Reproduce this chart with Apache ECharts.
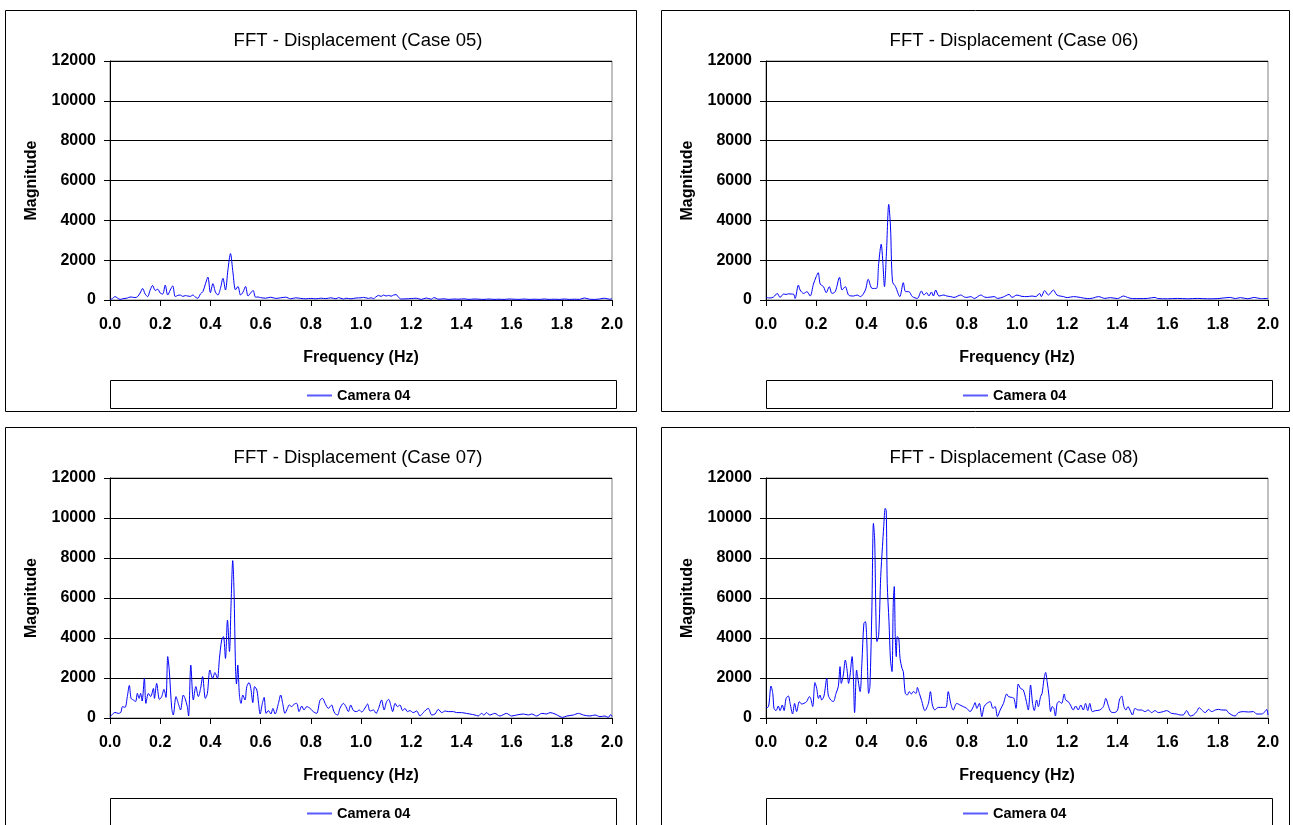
<!DOCTYPE html>
<html>
<head>
<meta charset="utf-8">
<script src="https://cdn.jsdelivr.net/npm/echarts@6/dist/echarts.min.js"></script>
<style>
html,body{margin:0;padding:0;background:#fff;}
#chart{width:1293px;height:825px;}
</style>
</head>
<body>
<div id="chart"></div>
<script>
// ---- Data (frequency Hz, magnitude) ----
const titles = ['FFT - Displacement (Case 05)', 'FFT - Displacement (Case 06)', 'FFT - Displacement (Case 07)', 'FFT - Displacement (Case 08)'];
const seriesName = 'Camera 04';
const xTicks = ['0.0','0.2','0.4','0.6','0.8','1.0','1.2','1.4','1.6','1.8','2.0'];
const yTicks = [0, 2000, 4000, 6000, 8000, 10000, 12000];

const case05 = [[0,0],[0.01,80],[0.02,170],[0.03,100],[0.04,30],[0.05,60],[0.06,80],[0.07,100],[0.08,150],[0.09,140],[0.10,120],[0.11,170],[0.12,350],[0.13,580],[0.14,300],[0.15,170],[0.16,500],[0.17,730],[0.18,480],[0.19,540],[0.20,350],[0.21,300],[0.22,750],[0.23,250],[0.24,500],[0.25,710],[0.26,170],[0.27,230],[0.28,250],[0.29,180],[0.30,220],[0.31,200],[0.32,180],[0.33,250],[0.34,150],[0.35,85],[0.36,300],[0.37,420],[0.38,800],[0.39,1150],[0.40,370],[0.41,820],[0.42,400],[0.43,250],[0.44,580],[0.45,1090],[0.46,500],[0.47,1530],[0.48,2330],[0.49,1360],[0.50,510],[0.51,680],[0.52,250],[0.53,400],[0.54,680],[0.55,200],[0.56,350],[0.57,480],[0.58,140],[0.59,150],[0.60,120],[0.62,90],[0.64,140],[0.66,80],[0.68,110],[0.70,140],[0.72,60],[0.74,110],[0.76,80],[0.78,60],[0.80,80],[0.82,60],[0.84,90],[0.86,70],[0.88,110],[0.90,60],[0.91,120],[0.93,50],[0.94,90],[0.96,60],[0.98,100],[1.00,110],[1.01,130],[1.03,80],[1.04,110],[1.05,70],[1.06,160],[1.07,230],[1.08,180],[1.09,250],[1.10,200],[1.11,230],[1.12,190],[1.13,250],[1.14,270],[1.15,130],[1.16,50],[1.18,60],[1.20,70],[1.22,90],[1.24,30],[1.26,100],[1.28,40],[1.29,120],[1.31,40],[1.33,60],[1.35,30],[1.37,50],[1.39,40],[1.41,60],[1.43,30],[1.45,50],[1.47,40],[1.49,30],[1.51,50],[1.53,30],[1.55,40],[1.57,30],[1.59,50],[1.61,40],[1.63,30],[1.65,50],[1.67,30],[1.69,40],[1.71,30],[1.73,50],[1.75,30],[1.77,40],[1.79,30],[1.81,50],[1.83,30],[1.85,40],[1.87,30],[1.89,100],[1.91,40],[1.93,30],[1.95,50],[1.97,90],[1.99,40],[2.00,60]];

const case06 = [[0,130],[0.015,100],[0.03,150],[0.045,330],[0.056,130],[0.07,300],[0.08,280],[0.09,310],[0.10,300],[0.11,290],[0.116,80],[0.129,750],[0.136,500],[0.15,330],[0.163,420],[0.176,200],[0.189,800],[0.2,1170],[0.208,1370],[0.216,800],[0.229,670],[0.24,370],[0.252,670],[0.263,330],[0.276,420],[0.293,1140],[0.303,500],[0.316,670],[0.329,250],[0.349,200],[0.363,250],[0.376,170],[0.396,500],[0.407,1040],[0.423,580],[0.44,580],[0.449,1840],[0.459,2800],[0.465,2000],[0.472,670],[0.48,2420],[0.489,4800],[0.496,3670],[0.504,920],[0.516,670],[0.533,170],[0.547,870],[0.556,420],[0.569,420],[0.583,170],[0.603,80],[0.619,450],[0.629,250],[0.64,370],[0.649,200],[0.659,400],[0.667,200],[0.676,500],[0.689,200],[0.709,250],[0.72,200],[0.736,170],[0.749,130],[0.776,250],[0.79,150],[0.8,130],[0.816,170],[0.83,80],[0.856,250],[0.87,150],[0.883,130],[0.909,170],[0.923,80],[0.945,150],[0.969,280],[0.98,130],[1.0,250],[1.02,180],[1.04,170],[1.06,200],[1.075,170],[1.09,330],[1.097,170],[1.11,470],[1.125,250],[1.145,500],[1.159,250],[1.185,170],[1.2,120],[1.225,170],[1.252,130],[1.28,70],[1.3,90],[1.325,170],[1.35,80],[1.372,120],[1.4,70],[1.425,200],[1.44,130],[1.46,70],[1.49,70],[1.52,80],[1.55,130],[1.56,70],[1.6,60],[1.64,80],[1.68,60],[1.72,80],[1.76,60],[1.8,70],[1.85,130],[1.87,70],[1.89,120],[1.92,60],[1.945,130],[1.97,70],[2.0,80]];

const case07 = [[0,50],[0.007,150],[0.02,280],[0.033,230],[0.043,280],[0.05,570],[0.06,530],[0.069,1070],[0.077,1630],[0.084,980],[0.093,900],[0.102,820],[0.109,1230],[0.116,980],[0.122,1230],[0.128,850],[0.137,1980],[0.143,730],[0.153,1230],[0.162,1070],[0.173,1480],[0.177,980],[0.186,1730],[0.197,930],[0.206,1070],[0.215,1430],[0.223,1030],[0.23,3070],[0.236,2400],[0.246,480],[0.252,150],[0.263,1070],[0.272,730],[0.281,400],[0.292,1150],[0.299,980],[0.308,570],[0.313,100],[0.322,2650],[0.332,900],[0.342,1570],[0.352,1070],[0.361,1480],[0.369,2070],[0.38,980],[0.388,1230],[0.398,2400],[0.409,1980],[0.418,2270],[0.428,1980],[0.436,2980],[0.445,3900],[0.452,4070],[0.46,2980],[0.468,4900],[0.476,3320],[0.482,5570],[0.489,7870],[0.494,6400],[0.5,2570],[0.504,1700],[0.509,2650],[0.516,1070],[0.522,730],[0.529,1150],[0.538,900],[0.545,1570],[0.554,1770],[0.561,1480],[0.569,770],[0.576,1570],[0.585,1400],[0.592,730],[0.598,200],[0.607,730],[0.614,1030],[0.622,230],[0.631,370],[0.641,200],[0.649,480],[0.658,200],[0.671,730],[0.68,1150],[0.688,730],[0.697,230],[0.707,480],[0.714,650],[0.724,570],[0.734,700],[0.744,730],[0.753,320],[0.764,600],[0.773,400],[0.784,570],[0.797,480],[0.81,320],[0.823,230],[0.837,900],[0.847,980],[0.857,730],[0.87,480],[0.883,650],[0.89,400],[0.896,230],[0.907,150],[0.916,480],[0.93,730],[0.94,570],[0.95,320],[0.959,650],[0.97,370],[0.983,320],[0.993,400],[1.003,300],[1.016,500],[1.026,700],[1.036,350],[1.05,400],[1.06,230],[1.07,480],[1.082,900],[1.092,400],[1.102,820],[1.11,930],[1.12,570],[1.126,320],[1.136,730],[1.145,570],[1.155,650],[1.166,370],[1.175,480],[1.185,320],[1.195,370],[1.208,270],[1.222,350],[1.235,100],[1.248,270],[1.268,480],[1.282,150],[1.295,200],[1.308,430],[1.322,270],[1.335,350],[1.348,320],[1.368,320],[1.381,270],[1.4,270],[1.42,230],[1.434,200],[1.454,150],[1.467,100],[1.48,230],[1.49,150],[1.5,270],[1.513,150],[1.533,230],[1.553,100],[1.58,230],[1.6,100],[1.62,150],[1.647,200],[1.667,150],[1.68,200],[1.7,100],[1.72,230],[1.74,200],[1.753,270],[1.773,200],[1.793,70],[1.803,30],[1.82,100],[1.846,150],[1.866,230],[1.886,150],[1.912,100],[1.932,150],[1.952,70],[1.972,100],[1.985,30],[1.995,170],[2.0,70]];

const case08 = [[0,500],[0.01,570],[0.02,1600],[0.027,1230],[0.032,480],[0.04,370],[0.049,600],[0.056,370],[0.065,650],[0.072,370],[0.08,980],[0.089,1100],[0.096,730],[0.106,200],[0.114,730],[0.122,320],[0.133,820],[0.142,700],[0.151,730],[0.162,820],[0.173,1070],[0.178,980],[0.186,570],[0.195,1770],[0.202,1480],[0.209,980],[0.215,1150],[0.222,900],[0.231,1100],[0.242,1980],[0.248,1150],[0.258,900],[0.268,820],[0.279,1230],[0.288,1570],[0.295,2570],[0.3,1730],[0.308,2150],[0.316,2900],[0.323,2400],[0.329,1730],[0.335,2150],[0.343,3070],[0.348,2070],[0.353,270],[0.361,2400],[0.365,2070],[0.375,1320],[0.382,2730],[0.39,4730],[0.396,4820],[0.401,4070],[0.409,1230],[0.414,1570],[0.422,5570],[0.428,9730],[0.433,8900],[0.438,5070],[0.442,3820],[0.449,4150],[0.457,7070],[0.464,8570],[0.469,9570],[0.475,10480],[0.479,10370],[0.483,6730],[0.49,4820],[0.496,2900],[0.502,2320],[0.507,5730],[0.511,6570],[0.515,4070],[0.519,3070],[0.523,4070],[0.529,3980],[0.534,2980],[0.542,2480],[0.547,2320],[0.555,1230],[0.563,1150],[0.571,1320],[0.579,1200],[0.587,1320],[0.598,1230],[0.603,1530],[0.611,1230],[0.62,870],[0.633,370],[0.647,730],[0.655,1320],[0.663,650],[0.673,400],[0.686,530],[0.704,530],[0.717,530],[0.726,1320],[0.736,730],[0.746,400],[0.76,730],[0.773,650],[0.786,570],[0.8,480],[0.813,320],[0.826,570],[0.833,770],[0.84,480],[0.85,730],[0.86,70],[0.869,570],[0.88,730],[0.893,820],[0.904,480],[0.913,570],[0.922,70],[0.933,400],[0.946,730],[0.959,1200],[0.966,1070],[0.979,1030],[0.988,980],[0.996,480],[1.005,1700],[1.014,1480],[1.025,1400],[1.036,900],[1.045,400],[1.054,1650],[1.062,730],[1.069,370],[1.078,900],[1.085,570],[1.094,1070],[1.1,1230],[1.107,1900],[1.114,2280],[1.12,1820],[1.127,1150],[1.134,320],[1.14,570],[1.147,480],[1.153,100],[1.16,730],[1.168,820],[1.178,730],[1.188,1200],[1.194,900],[1.204,820],[1.213,650],[1.224,400],[1.234,600],[1.244,400],[1.254,650],[1.264,400],[1.273,730],[1.282,370],[1.29,730],[1.3,320],[1.314,370],[1.33,400],[1.344,570],[1.354,980],[1.363,650],[1.373,320],[1.386,270],[1.4,370],[1.408,900],[1.417,1100],[1.426,570],[1.434,400],[1.442,570],[1.45,400],[1.46,150],[1.47,480],[1.483,400],[1.496,400],[1.51,320],[1.523,400],[1.536,270],[1.55,370],[1.563,270],[1.583,320],[1.596,370],[1.616,230],[1.636,200],[1.65,150],[1.662,150],[1.676,370],[1.69,100],[1.703,150],[1.716,320],[1.726,520],[1.736,400],[1.75,270],[1.763,430],[1.776,320],[1.79,400],[1.803,430],[1.816,400],[1.833,400],[1.842,270],[1.856,150],[1.869,100],[1.882,270],[1.902,320],[1.922,300],[1.942,320],[1.955,200],[1.975,200],[1.988,320],[1.995,430],[2.0,150]];

const allCases = [case05, case06, case07, case08];

// ---- Layout ----
const FONT = '"Liberation Sans", Arial, sans-serif';
const panels = [
  {x:5, y:10, w:631, h:401, gl:110, gt:61, gw:502, gh:239},
  {x:661, y:10, w:628, h:401, gl:766, gt:61, gw:502, gh:239},
  {x:5, y:427, w:631, h:405, gl:110, gt:478, gw:502, gh:240},
  {x:661, y:427, w:628, h:405, gl:766, gt:478, gw:502, gh:240}
];

const chart = echarts.init(document.getElementById('chart'), null, {renderer:'canvas'});

const grid = [], xAxis = [], yAxis = [], series = [], title = [], legend = [], graphic = [];
panels.forEach((p, i) => {
  graphic.push({type:'rect', shape:{x:p.x+0.5, y:p.y+0.5, width:p.w, height:p.h}, style:{fill:'none', stroke:'#000', lineWidth:1}, z:0});
  const lb = {x:p.gl, y:p.gt + p.gh + 80, w:506, h:28};
  graphic.push({type:'rect', shape:{x:lb.x+0.5, y:lb.y+0.5, width:lb.w, height:lb.h}, style:{fill:'none', stroke:'#000', lineWidth:1}, z:0});
  grid.push({left:p.gl, top:p.gt, width:p.gw, height:p.gh, show:true, borderColor:'#808080', borderWidth:1, backgroundColor:'transparent'});
  title.push({text:titles[i], left:p.gl + p.gw/2 - 8, top:p.gt - 35, textAlign:'center',
    textStyle:{fontFamily:FONT, fontSize:18.5, fontWeight:'normal', color:'#000'}});
  xAxis.push({type:'value', gridIndex:i, min:0, max:2, interval:0.2,
    name:'Frequency (Hz)', nameLocation:'middle', nameGap:50,
    nameTextStyle:{fontFamily:FONT, fontSize:16, fontWeight:'bold', color:'#000'},
    axisLine:{show:true, onZero:false, lineStyle:{color:'#000', width:1}},
    axisTick:{show:true, inside:false, length:6, lineStyle:{color:'#000'}},
    axisLabel:{fontFamily:FONT, fontSize:16, fontWeight:'bold', color:'#000', margin:17,
      formatter:(v)=>xTicks[Math.round(v/0.2)]},
    splitLine:{show:false}});
  yAxis.push({type:'value', gridIndex:i, min:yTicks[0], max:yTicks[yTicks.length-1], interval:2000,
    name:'Magnitude', nameLocation:'middle', nameGap:70, nameRotate:90,
    nameTextStyle:{fontFamily:FONT, fontSize:16, fontWeight:'bold', color:'#000'},
    axisLine:{show:true, lineStyle:{color:'#000', width:1}},
    axisTick:{show:true, inside:false, length:6, lineStyle:{color:'#000'}},
    axisLabel:{fontFamily:FONT, fontSize:16, fontWeight:'bold', color:'#000', margin:14,
      formatter:(v)=>String(v)},
    splitLine:{show:true, lineStyle:{color:'#000', width:1}}});
  series.push({type:'line', name:seriesName, xAxisIndex:i, yAxisIndex:i, data:allCases[i],
    symbol:'none', smooth:0.3, lineStyle:{color:'#0000ff', width:1}, itemStyle:{color:'#0000ff'},
    animation:false, z:3});
  legend.push({show:true, left:lb.x + 192, top:lb.y + 3, icon:'rect', itemWidth:25, itemHeight:2, itemGap:5,
    data:[{name:seriesName, itemStyle:{color:'#5a5aff'}}], selectedMode:false,
    textStyle:{fontFamily:FONT, fontSize:14.5, fontWeight:'bold', color:'#000', padding:[0,0,0,0]}});
});

chart.setOption({
  animation:false,
  backgroundColor:'#ffffff',
  title, grid, xAxis, yAxis, series, legend, graphic
});
</script>
</body>
</html>
